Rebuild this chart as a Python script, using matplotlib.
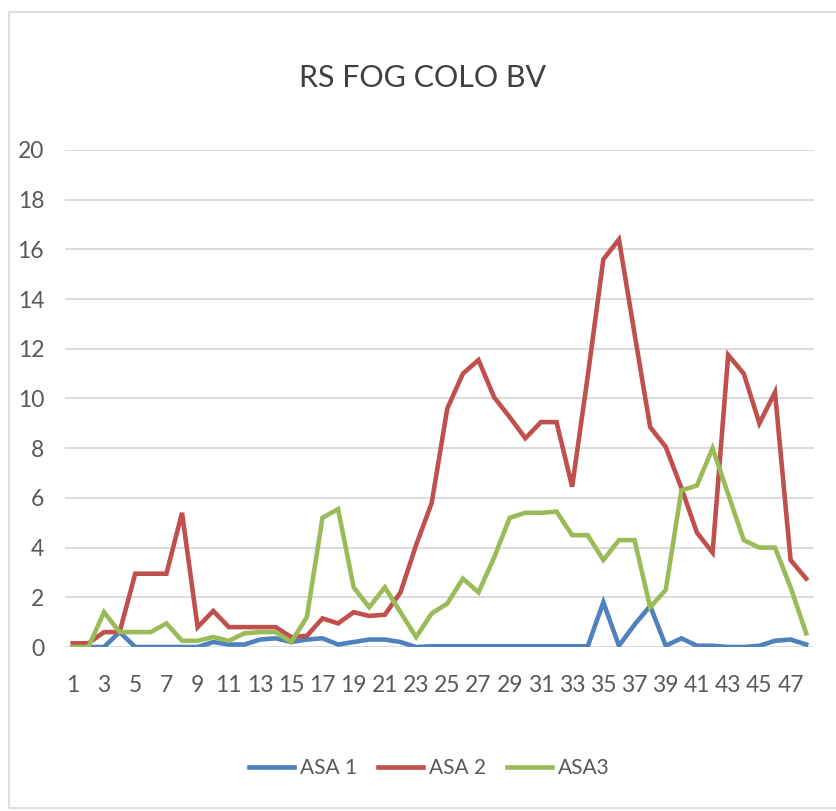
import matplotlib
matplotlib.use("Agg")
import numpy as np
from matplotlib import pyplot as plt
from matplotlib.patches import Rectangle

plt.rcParams['font.family'] = ['Lato', 'DejaVu Sans']

# ---------------------------------------------------------------------------
# Data
# ---------------------------------------------------------------------------
weeks = list(range(1, 49))

asa1 = [0.0, 0.0, 0.0, 0.6, 0.0, 0.0, 0.0, 0.0, 0.0, 0.2,
        0.1, 0.1, 0.3, 0.35, 0.2, 0.3, 0.35, 0.1, 0.2, 0.3,
        0.3, 0.2, 0.0, 0.03, 0.03, 0.03, 0.03, 0.03, 0.03, 0.03,
        0.03, 0.03, 0.03, 0.03, 1.8, 0.05, 0.9, 1.65, 0.05, 0.35,
        0.05, 0.05, 0.0, 0.0, 0.05, 0.25, 0.3, 0.1]

asa2 = [0.15, 0.15, 0.6, 0.6, 2.95, 2.95, 2.95, 5.4, 0.8, 1.45,
        0.8, 0.8, 0.8, 0.8, 0.4, 0.45, 1.15, 0.95, 1.4, 1.25,
        1.3, 2.2, 4.1, 5.8, 9.6, 11.0, 11.55, 10.05, 9.25, 8.4,
        9.05, 9.05, 6.45, 10.9, 15.6, 16.4, 12.6, 8.85, 8.05, 6.4,
        4.6, 3.8, 11.75, 11.0, 9.0, 10.25, 3.5, 2.75]

asa3 = [0.0, 0.0, 1.4, 0.6, 0.6, 0.6, 0.95, 0.25, 0.25, 0.4,
        0.25, 0.55, 0.6, 0.6, 0.2, 1.2, 5.2, 5.55, 2.4, 1.6,
        2.4, 1.4, 0.4, 1.35, 1.75, 2.75, 2.2, 3.6, 5.2, 5.4,
        5.4, 5.45, 4.5, 4.5, 3.5, 4.3, 4.3, 1.6, 2.3, 6.3,
        6.5, 8.0, 6.15, 4.3, 4.0, 4.0, 2.4, 0.55]

series = [("ASA 1", asa1, "#4F81BD"),
          ("ASA 2", asa2, "#C0504D"),
          ("ASA3", asa3, "#9BBB59")]

# ---------------------------------------------------------------------------
# Figure
# ---------------------------------------------------------------------------
fig = plt.figure(figsize=(8.36, 8.11), dpi=100)

# outer chart frame
fig.patches.append(Rectangle((9 / 836, 3 / 811), 835 / 836, 796 / 811,
                             transform=fig.transFigure, fill=False,
                             edgecolor="#D9D9D9", linewidth=1.2))

ax = fig.add_axes([65 / 836, (811 - 647) / 811, (814 - 65) / 836, (647 - 150) / 811])

for name, vals, col in series:
    ax.plot(weeks, vals, color=col, linewidth=3.3, label=name,
            solid_joinstyle="miter", zorder=3)

ax.set_xlim(0.5, 48.5)
ax.set_ylim(0, 20)
ax.set_yticks(np.arange(0, 21, 2))
ax.set_xticks(weeks[::2])
ax.set_xticklabels([str(w) for w in weeks[::2]])

ax.grid(axis="y", color="#D9D9D9", linewidth=1.3, zorder=0)
for s in ax.spines.values():
    s.set_visible(False)
ax.tick_params(axis="both", length=0, labelsize=16.5, colors="#595959")
ax.tick_params(axis="y", pad=15)
ax.tick_params(axis="x", pad=20)

fig.text(423 / 836, 1 - 78 / 811, "RS FOG COLO BV", ha="center", va="center",
         fontsize=22, color="#404040")

ax.legend(loc="center", bbox_to_anchor=((429 - 65) / 749, (647 - 768) / 497), ncol=3,
          frameon=False, fontsize=15, handlelength=2.2, columnspacing=1.0,
          handletextpad=0.25, labelcolor="#595959")

fig.savefig("out.png", dpi=100)
